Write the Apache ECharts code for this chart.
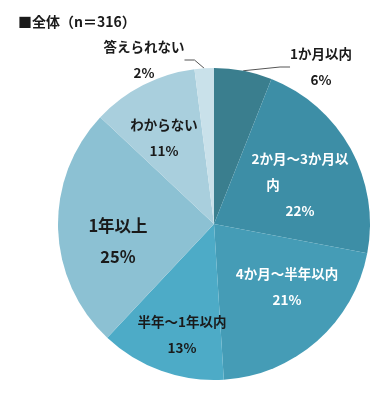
<!DOCTYPE html>
<html><head><meta charset="utf-8">
<script src="https://cdn.jsdelivr.net/npm/echarts@6/dist/echarts.min.js"></script>
<style>html,body{margin:0;padding:0;background:#fff}#c{width:388px;height:400px}</style>
</head><body><div id="c"></div>
<script>
const title = '■全体（n＝316）';
const categories = ['1か月以内', '2か月～3か月以内', '4か月～半年以内', '半年～1年以内', '1年以上', 'わからない', '答えられない'];
const values = [6, 22, 21, 13, 25, 11, 2];

const colors = ['#3a7e8e', '#3d8ea6', '#459cb6', '#4dabc7', '#8cc1d3', '#a9cfdd', '#c9e1ea'];
const textColors = ['#1a1a1a', '#ffffff', '#ffffff', '#1a1a1a', '#1a1a1a', '#1a1a1a', '#1a1a1a'];
const labelPos = [[321, 67], [300, 185], [287, 287], [182, 335], [118, 241], [164, 138], [144, 60]];
const outside = [true, false, false, false, false, false, true];

const chart = echarts.init(document.getElementById('c'));
const font = '"Noto Sans CJK JP", sans-serif';
chart.setOption({
  animation: false,
  title: { text: title, left: 13, top: 10, textStyle: { fontFamily: font, fontSize: 14, fontWeight: 'bold', color: '#1a1a1a' } },
  series: [{
    type: 'pie',
    center: [214, 224],
    radius: 156,
    startAngle: 90,
    clockwise: true,
    data: categories.map((name, i) => {
      const big = i === 4;
      const lab = i === 1 ? '2か月～3か月以\n内　　　　\n' + values[i] + '%' : name + '\n' + values[i] + '%';
      return {
        name, value: values[i],
        itemStyle: { color: colors[i] },
        label: {
          position: outside[i] ? 'outside' : 'inside',
          formatter: lab,
          color: textColors[i],
          fontFamily: font,
          fontWeight: 'bold',
          fontSize: big ? 16.5 : 13.5,
          lineHeight: big ? 31 : 26,
          align: 'center'
        },
        labelLine: { show: outside[i], length: 10, length2: 10, lineStyle: { color: '#555', width: 1 } }
      };
    }),
    labelLayout: function (p) {
      const pos = labelPos[p.dataIndex];
      return { x: pos[0], y: pos[1], align: 'center', verticalAlign: 'middle' };
    }
  }]
});
</script></body></html>
